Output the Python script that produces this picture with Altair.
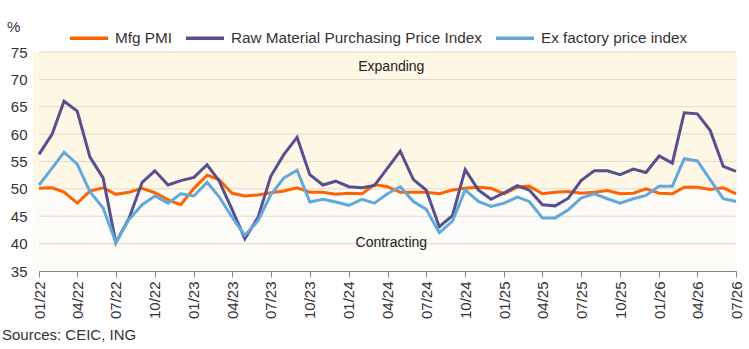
import altair as alt
import pandas as pd

# ---- data ----
months = pd.date_range("2022-01-01", periods=55, freq="MS")
mfg_pmi = [50.1, 50.2, 49.4, 47.4, 49.6, 50.2, 49.0, 49.4, 50.1, 49.3, 48.0, 47.1,
           50.1, 52.5, 51.7, 49.2, 48.7, 48.9, 49.3, 49.6, 50.2, 49.4, 49.4, 49.0,
           49.2, 49.1, 50.8, 50.4, 49.4, 49.4, 49.4, 49.1, 49.8, 50.1, 50.3, 50.1,
           49.1, 50.3, 50.5, 49.1, 49.4, 49.5, 49.2, 49.4, 49.7, 49.1, 49.2, 50.0,
           49.2, 49.1, 50.3, 50.3, 49.9, 50.2, 49.1]
raw_material = [56.3, 60.0, 66.0, 64.2, 55.8, 52.0, 40.2, 44.6, 51.2, 53.3, 50.7, 51.5,
                52.1, 54.4, 51.5, 46.2, 40.9, 44.8, 52.3, 56.3, 59.4, 52.6, 50.7, 51.4,
                50.4, 50.2, 50.6, 53.8, 56.9, 51.7, 49.8, 43.1, 45.1, 53.5, 49.8, 48.1,
                49.3, 50.6, 49.8, 47.1, 46.9, 48.3, 51.5, 53.3, 53.3, 52.6, 53.6, 53.0,
                56.0, 54.7, 63.9, 63.7, 60.7, 54.1, 53.2]
ex_factory = [50.7, 53.8, 56.7, 54.5, 49.5, 46.5, 40.2, 44.4, 47.1, 48.7, 47.4, 49.1,
              48.7, 51.2, 48.6, 44.8, 41.5, 44.2, 48.9, 52.0, 53.4, 47.6, 48.1, 47.6,
              47.0, 48.1, 47.4, 49.1, 50.4, 47.7, 46.3, 42.0, 44.1, 49.8, 47.7, 46.8,
              47.4, 48.5, 47.7, 44.7, 44.7, 46.2, 48.3, 49.1, 48.2, 47.4, 48.2, 48.8,
              50.5, 50.5, 55.5, 55.1, 51.7, 48.2, 47.7]
series_names = ["Mfg PMI", "Raw Material Purchasing Price Index", "Ex factory price index"]
series_colors = ["#FF6200", "#574F8E", "#62A9DB"]
y_ticks = [35, 40, 45, 50, 55, 60, 65, 70, 75]
grid_levels = [40, 45, 50, 55, 60, 65, 70, 75]
tick_months = pd.date_range("2022-01-01", "2026-07-01", freq="3MS")

FONT = "Liberation Sans"
TXT = "#333333"

rows = []
for name, vals in zip(series_names, [mfg_pmi, raw_material, ex_factory]):
    for d, v in zip(months, vals):
        rows.append({"date": d.strftime("%Y-%m-%d"), "value": v, "series": name})
df = pd.DataFrame(rows)

x_scale = alt.Scale(domain=[months[0].strftime("%Y-%m-%d"), months[-1].strftime("%Y-%m-%d")])
y_scale = alt.Scale(domain=[35, 75], nice=False, zero=False)

x_axis = alt.Axis(values=[d.strftime("%Y-%m-%d") for d in tick_months],
                  format="%m/%y", labelAngle=270, labelAlign="right",
                  labelBaseline="middle", labelFontSize=15, labelColor=TXT,
                  labelFont=FONT, labelPadding=4, tickSize=6, tickColor="#888888",
                  domainColor="#888888", grid=False, title=None, labelOverlap=False)
y_axis = alt.Axis(values=y_ticks, ticks=False, domain=False, grid=False,
                  labelFontSize=15, labelColor=TXT, labelFont=FONT,
                  labelPadding=12, title=None)

W, H = 697, 219

band_hi = alt.Chart(pd.DataFrame({"top": [75], "bottom": [50]})).mark_rect(color="#FEF7E5").encode(
    x=alt.value(-6), x2=alt.value(W + 1),
    y=alt.Y("top:Q", scale=y_scale, axis=y_axis), y2="bottom:Q")
band_lo = alt.Chart(pd.DataFrame({"top": [50], "bottom": [35]})).mark_rect(color="#FCFBF8").encode(
    x=alt.value(-6), x2=alt.value(W + 1),
    y=alt.Y("top:Q", scale=y_scale, axis=y_axis), y2="bottom:Q")

grid = alt.Chart(pd.DataFrame({"g": grid_levels})).mark_rule(color="#E2D9C8", strokeWidth=1).encode(
    x=alt.value(0), x2=alt.value(W),
    y=alt.Y("g:Q", scale=y_scale, axis=y_axis),
)

lines = alt.Chart(df).mark_line(strokeWidth=3).encode(
    x=alt.X("date:T", scale=x_scale, axis=x_axis),
    y=alt.Y("value:Q", scale=y_scale, axis=y_axis),
    color=alt.Color("series:N",
                    scale=alt.Scale(domain=series_names, range=series_colors),
                    sort=series_names,
                    legend=alt.Legend(title=None, orient="none", legendX=29, legendY=-35,
                                      direction="horizontal", symbolType="stroke",
                                      symbolStrokeWidth=3.5, symbolSize=1444,
                                      labelFontSize=15.3, labelFont=FONT, labelColor=TXT,
                                      labelLimit=0, labelOffset=5, columnPadding=7,
                                      padding=0)),
    order=alt.Order("date:T"),
)

zones = pd.DataFrame({"date": ["2024-04-10", "2024-04-10"], "y": [72.3, 40.1],
                      "label": ["Expanding", "Contracting"]})
zone_text = alt.Chart(zones).mark_text(fontSize=14, font=FONT, color="#222222").encode(
    x=alt.X("date:T", scale=x_scale, axis=x_axis),
    y=alt.Y("y:Q", scale=y_scale, axis=y_axis), text="label:N")

pct = alt.Chart(pd.DataFrame({"t": ["%"]})).mark_text(
    fontSize=15, font=FONT, color=TXT, align="left", baseline="middle").encode(
    x=alt.value(-32), y=alt.value(-25), text="t:N")
src = alt.Chart(pd.DataFrame({"t": ["Sources: CEIC, ING"]})).mark_text(
    fontSize=15, font=FONT, color=TXT, align="left", baseline="middle").encode(
    x=alt.value(-37), y=alt.value(H + 64), text="t:N")

chart = alt.layer(band_hi, band_lo, grid, lines, zone_text, pct, src).properties(
    width=W, height=H,
    autosize=alt.AutoSizeParams(type="none"),
    padding={"left": 39, "top": 52, "right": 13, "bottom": 78},
    background="white",
).configure_view(stroke=None)

chart.save("out.html", embed_options={"renderer": "svg", "actions": False})
